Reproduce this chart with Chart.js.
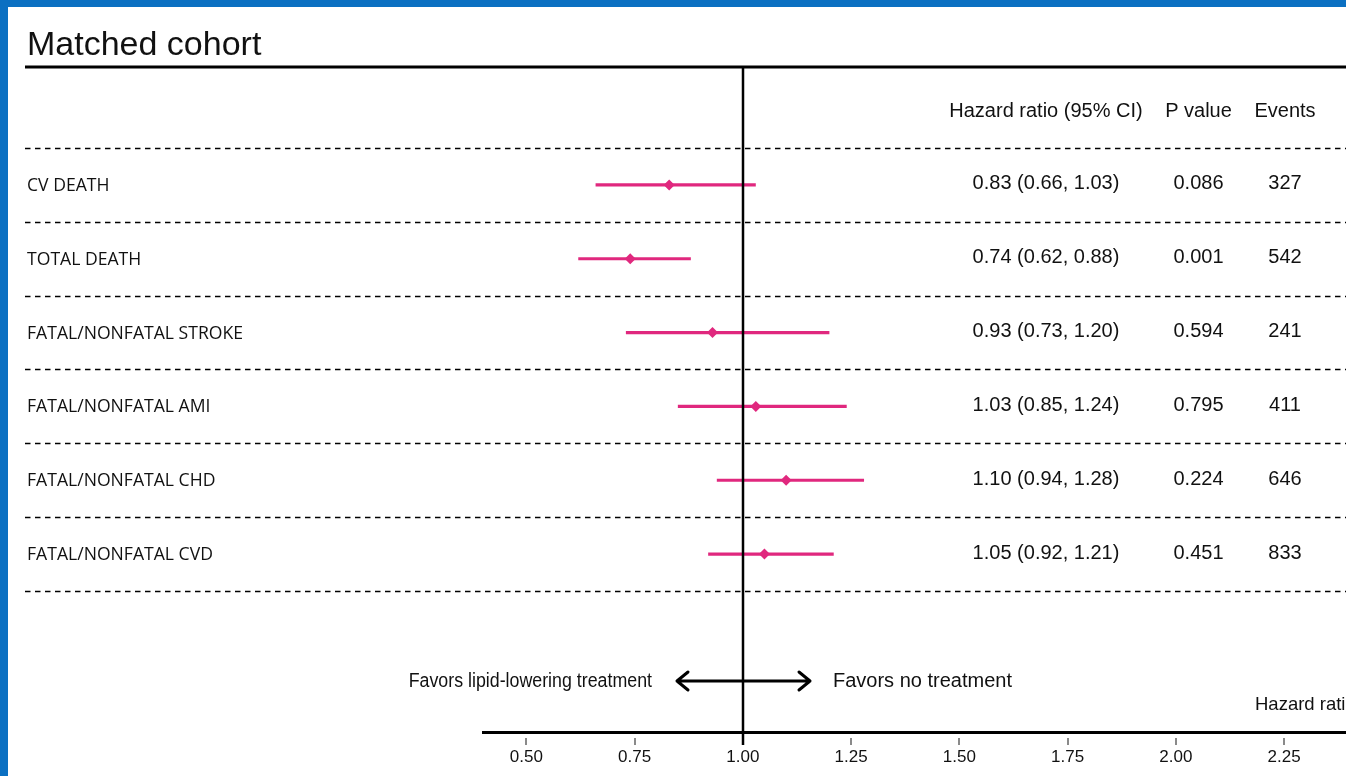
<!DOCTYPE html>
<html>
<head>
<meta charset="utf-8">
<script src="https://cdn.jsdelivr.net/npm/chart.js@4.4.1/dist/chart.umd.min.js"></script>
<style>
  html, body { margin: 0; padding: 0; width: 1346px; height: 776px; overflow: hidden; background: #0b70c2; }
  #panel { position: absolute; left: 8px; top: 7px; width: 1338px; height: 769px; background: #fff; overflow: hidden; }
  #box { position: absolute; left: 0; top: 0; width: 1400px; height: 769px; }
</style>
</head>
<body>
<div id="panel"><div id="box"><canvas id="forest"></canvas></div></div>
<script>
// Outcomes and their hazard ratios (95% CI), p values and event counts
const outcomes = ['CV DEATH', 'TOTAL DEATH', 'FATAL/NONFATAL STROKE', 'FATAL/NONFATAL AMI', 'FATAL/NONFATAL CHD', 'FATAL/NONFATAL CVD'];
const hazardRatio = [0.83, 0.74, 0.93, 1.03, 1.10, 1.05];
const ciLower = [0.66, 0.62, 0.73, 0.85, 0.94, 0.92];
const ciUpper = [1.03, 0.88, 1.20, 1.24, 1.28, 1.21];
const pValues = ['0.086', '0.001', '0.594', '0.795', '0.224', '0.451'];
const events = [327, 542, 241, 411, 646, 833];
const xTicks = [0.50, 0.75, 1.00, 1.25, 1.50, 1.75, 2.00, 2.25];
const columnHeads = ['Hazard ratio (95% CI)', 'P value', 'Events'];
const titleText = 'Matched cohort';
const favorsLeft = 'Favors lipid-lowering treatment';
const favorsRight = 'Favors no treatment';
const axisTitle = 'Hazard ratio';

const PINK = '#e0287e';
const INK = '#111';
const SANS = '"Liberation Sans", Arial, sans-serif';
const ROW_FONT = '"Open Sans", sans-serif';
const COL_X = [1038, 1190.5, 1277];

const rowY = i => i + 0.5;

// one short line per outcome for its confidence interval
const ciSets = outcomes.map((name, i) => ({
  label: name + ' CI',
  data: [{ x: ciLower[i], y: rowY(i) }, { x: ciUpper[i], y: rowY(i) }],
  showLine: true,
  borderColor: PINK,
  borderWidth: 3.2,
  pointRadius: 0,
  order: 2
}));

const pointSet = {
  label: 'Hazard ratio',
  data: hazardRatio.map((v, i) => ({ x: v, y: rowY(i) })),
  pointStyle: 'rectRot',
  pointRadius: 5.5,
  backgroundColor: PINK,
  borderColor: PINK,
  borderWidth: 0,
  order: 1
};

const forestDecor = {
  id: 'forestDecor',
  beforeDatasetsDraw(chart) {
    const { ctx, chartArea: a, scales: { y } } = chart;
    ctx.save();
    // title and rule beneath it
    ctx.fillStyle = INK;
    ctx.font = '34px ' + SANS;
    ctx.textAlign = 'left';
    ctx.textBaseline = 'alphabetic';
    ctx.fillText(titleText, 19, 48);
    ctx.strokeStyle = '#000';
    ctx.lineWidth = 3;
    ctx.beginPath();
    ctx.moveTo(17, a.top);
    ctx.lineTo(chart.width, a.top);
    ctx.stroke();

    // dashed row separators
    ctx.setLineDash([5.5, 4.5]);
    ctx.lineWidth = 1.5;
    for (let k = 0; k <= outcomes.length; k++) {
      const py = Math.round(y.getPixelForValue(k)) + 0.5;
      ctx.beginPath();
      ctx.moveTo(17, py);
      ctx.lineTo(chart.width, py);
      ctx.stroke();
    }
    ctx.setLineDash([]);

    // column headers
    ctx.textBaseline = 'middle';
    ctx.textAlign = 'center';
    ctx.font = '20px ' + SANS;
    const hy = y.getPixelForValue(-0.5);
    columnHeads.forEach((h, j) => ctx.fillText(h, COL_X[j], hy));

    // row labels and values
    outcomes.forEach((name, i) => {
      const py = y.getPixelForValue(rowY(i));
      ctx.textAlign = 'left';
      ctx.font = '17.6px ' + ROW_FONT;
      ctx.fillText(name, 19, py + 1);
      ctx.textAlign = 'center';
      ctx.font = '20px ' + SANS;
      const hrText = hazardRatio[i].toFixed(2) + ' (' + ciLower[i].toFixed(2) + ', ' + ciUpper[i].toFixed(2) + ')';
      ctx.fillText(hrText, COL_X[0], py - 1);
      ctx.fillText(pValues[i], COL_X[1], py - 1);
      ctx.fillText(String(events[i]), COL_X[2], py - 1);
    });
    ctx.restore();
  },
  afterDatasetsDraw(chart) {
    const { ctx, chartArea: a, scales: { x } } = chart;
    ctx.save();
    const x1 = Math.round(x.getPixelForValue(1));

    // tick marks set slightly below the axis line
    ctx.strokeStyle = '#8a8a8a';
    ctx.lineWidth = 2;
    x.ticks.forEach((t, i) => {
      const px = Math.round(x.getPixelForTick(i));
      ctx.beginPath();
      ctx.moveTo(px, a.bottom + 6);
      ctx.lineTo(px, a.bottom + 13);
      ctx.stroke();
    });

    // line of no effect
    ctx.strokeStyle = '#000';
    ctx.lineWidth = 2.5;
    ctx.beginPath();
    ctx.moveTo(x1, a.top);
    ctx.lineTo(x1, a.bottom + 13);
    ctx.stroke();

    // double-headed arrow with its captions
    const ay = a.bottom - 51;
    const l = x1 - 66, r = x1 + 67;
    ctx.lineWidth = 3;
    ctx.lineCap = 'round';
    ctx.lineJoin = 'round';
    ctx.beginPath();
    ctx.moveTo(l, ay); ctx.lineTo(r, ay);
    ctx.moveTo(l + 11, ay - 9); ctx.lineTo(l, ay); ctx.lineTo(l + 11, ay + 9);
    ctx.moveTo(r - 11, ay - 9); ctx.lineTo(r, ay); ctx.lineTo(r - 11, ay + 9);
    ctx.stroke();

    ctx.fillStyle = INK;
    ctx.textBaseline = 'middle';
    ctx.font = '20px ' + SANS;
    ctx.textAlign = 'right';
    ctx.save();
    ctx.translate(x1 - 91, ay);
    ctx.scale(0.89, 1);
    ctx.fillText(favorsLeft, 0, 0);
    ctx.restore();
    ctx.textAlign = 'left';
    ctx.fillText(favorsRight, x1 + 90, ay);

    // axis title, running off the right edge
    ctx.font = '18.5px ' + SANS;
    ctx.fillText(axisTitle, 1247, a.bottom - 27);
    ctx.restore();
  }
};

new Chart(document.getElementById('forest'), {
  type: 'scatter',
  data: { datasets: [...ciSets, pointSet] },
  options: {
    responsive: true,
    maintainAspectRatio: false,
    animation: false,
    layout: { padding: { left: 475, right: 59, top: 60, bottom: 0 } },
    plugins: { legend: { display: false }, tooltip: { enabled: false } },
    scales: {
      x: {
        type: 'linear',
        min: 0.4,
        max: 2.4,
        afterBuildTicks: s => { s.ticks = xTicks.map(v => ({ value: v })); },
        afterFit: s => { s.height = 44; },
        grid: { display: false, drawTicks: false },
        border: { display: true, color: '#000', width: 3 },
        ticks: {
          autoSkip: false,
          maxRotation: 0,
          padding: 15,
          color: INK,
          font: { family: 'Liberation Sans', size: 17 },
          callback: v => Number(v).toFixed(2)
        }
      },
      y: {
        type: 'linear',
        display: false,
        reverse: true,
        min: -1.097,
        max: 7.91
      }
    }
  },
  plugins: [forestDecor]
});
</script>
</body>
</html>
